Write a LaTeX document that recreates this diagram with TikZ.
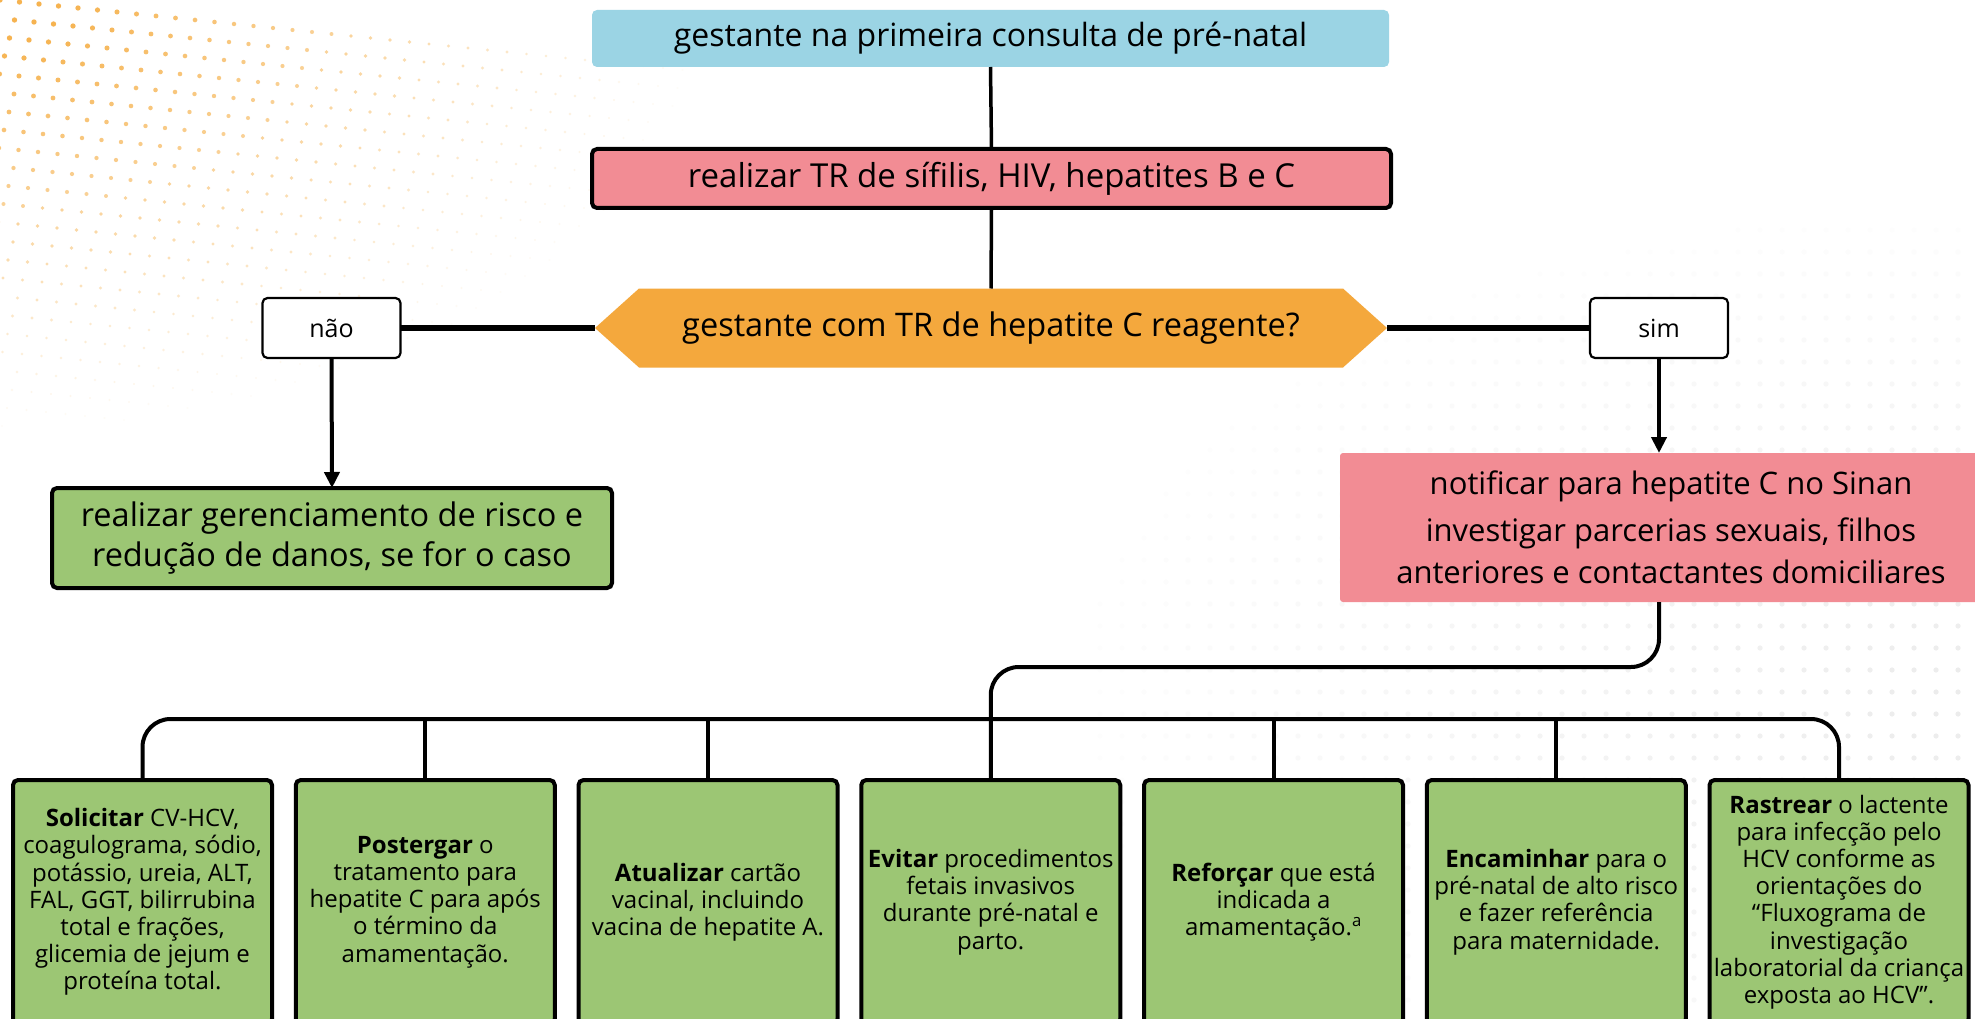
\documentclass[tikz,border=0pt]{standalone}
\usepackage{fontspec}
\setmainfont{Open Sans}
\usetikzlibrary{arrows.meta}
\definecolor{cblue}{HTML}{9BD4E4}
\definecolor{cpink}{HTML}{F28C94}
\definecolor{corange}{HTML}{F4A83D}
\definecolor{cgreen}{HTML}{9CC674}
\definecolor{cdot}{HTML}{F6B350}
\definecolor{cgdot}{HTML}{C8C8C8}
\begin{document}
\begin{tikzpicture}[x=1pt,y=-1pt,
  basebox/.style={rectangle, rounded corners=5pt, inner sep=0pt, outer sep=0pt, align=center, text=black},
  bluebox/.style={basebox, fill=cblue, font=\fontsize{32}{38}\selectfont},
  pinkbox/.style={basebox, fill=cpink, draw=black, line width=4pt, font=\fontsize{33}{38}\selectfont},
  pinkflat/.style={basebox, rounded corners=3pt, fill=cpink, font=\fontsize{31}{42}\selectfont},
  greenbox/.style={basebox, fill=cgreen, draw=black, line width=4pt, font=\fontsize{32.5}{40}\selectfont},
  leaf/.style={basebox, fill=cgreen, draw=black, line width=4pt, minimum width=259pt, minimum height=244pt, font=\fontsize{24}{27.2}\selectfont},
  answer/.style={basebox, fill=white, draw=black, line width=2.2pt, minimum width=138pt, minimum height=60pt, font=\fontsize{25}{28}\selectfont},
  conn/.style={draw=black, line width=4pt},
  thinconn/.style={draw=black, line width=3.5pt},
  thickconn/.style={draw=black, line width=6pt},
  arr/.style={draw=black, line width=4pt, -{Triangle[length=16pt,width=15pt]}},
]
\useasboundingbox (0,0) rectangle (1975,1019);
\clip (0,0) rectangle (1975,1019);
\fill[white] (0,0) rectangle (1975,1019);

% decorative orange dots (top left)
\foreach \i in {0,...,36}{\foreach \j in {0,...,24}{
  \pgfmathsetmacro\px{\i*19.5-\j*5}
  \pgfmathsetmacro\py{\j*18+\i*2}
  \pgfmathsetmacro\op{min(1,1.1-sqrt((\px/650)^2+(\py/400)^2))}
  \ifdim\op pt>0.03pt
    \fill[cdot, opacity=\op] (\px,\py) circle [radius={1+1.7*\op}];
  \fi
}}
% decorative faint grey dots (right)
\foreach \i in {0,...,40}{\foreach \j in {0,...,36}{
  \pgfmathsetmacro\px{1100+\i*22}
  \pgfmathsetmacro\py{230+\j*22}
  \pgfmathsetmacro\op{0.35*(1-sqrt(((\px-1975)/950)^2+((\py-700)/520)^2))}
  \ifdim\op pt>0.02pt
    \fill[cgdot, opacity=\op] (\px,\py) circle [radius=2.6];
  \fi
}}

% nodes
\node[bluebox, minimum width=797pt, minimum height=57pt] (start) at (990.5,38.5) {gestante na primeira consulta de pré-natal};
\node[pinkbox, minimum width=799pt, minimum height=59pt] (tr) at (991.5,178.5) {realizar TR de sífilis, HIV, hepatites B e C};
\fill[corange] (595,328) -- (639,288.5) -- (1343,288.5) -- (1387,328) -- (1343,367.5) -- (639,367.5) -- cycle;
\node[basebox, minimum width=792pt, minimum height=79pt, font=\fontsize{32.5}{38}\selectfont] (q) at (991,328) {gestante com TR de hepatite C reagente?};
\node[answer] (nao) at (331.5,328) {não};
\node[answer] (sim) at (1659,328) {sim};
\node[greenbox, minimum width=560pt, minimum height=100pt] (risk) at (332,538) {realizar gerenciamento de risco e\\redução de danos, se for o caso};
\node[pinkflat, minimum width=662pt, minimum height=149pt] (notif) at (1671,527.5) {notificar para hepatite C no Sinan\\[5pt]investigar parcerias sexuais, filhos\\anteriores e contactantes domiciliares};

\node[leaf] (b1) at (142.5,902) {\textbf{Solicitar} CV-HCV,\\coagulograma, sódio,\\potássio, ureia, ALT,\\FAL, GGT, bilirrubina\\total e frações,\\glicemia de jejum e\\proteína total.};
\node[leaf] (b2) at (425.25,902) {\textbf{Postergar} o\\tratamento para\\hepatite C para após\\o término da\\amamentação.};
\node[leaf] (b3) at (708,902) {\textbf{Atualizar} cartão\\vacinal, incluindo\\vacina de hepatite A.};
\node[leaf] (b4) at (990.75,902) {\textbf{Evitar} procedimentos\\fetais invasivos\\durante pré-natal e\\parto.};
\node[leaf] (b5) at (1273.5,902) {\textbf{Reforçar} que está\\indicada a\\amamentação.\textsuperscript{a}};
\node[leaf] (b6) at (1556.25,902) {\textbf{Encaminhar} para o\\pré-natal de alto risco\\e fazer referência\\para maternidade.};
\node[leaf] (b7) at (1839,902) {\textbf{Rastrear} o lactente\\para infecção pelo\\HCV conforme as\\orientações do\\“Fluxograma de\\investigação\\laboratorial da criança\\exposta ao HCV”.};

% connectors
\draw[thinconn] (start.south) -- (tr.north);
\draw[thinconn] (tr.south) -- (q.north);
\draw[thickconn] (nao.east) -- (q.west);
\draw[thickconn] (q.east) -- (sim.west);
\draw[arr] (nao.south) -- (risk.north);
\draw[arr] (sim.south) -- (sim.south |- notif.north);
\coordinate (bus) at (0,719);
\draw[conn, rounded corners=28pt] (sim.south |- notif.south) -- ++(0,65) -| (b4.north);
\draw[conn, rounded corners=28pt] (b1.north) |- (bus -| b7.north) -- (b7.north);
\foreach \b in {b2,b3,b5,b6}{\draw[conn] (\b.north) -- (\b.north |- bus);}
\end{tikzpicture}
\end{document}
